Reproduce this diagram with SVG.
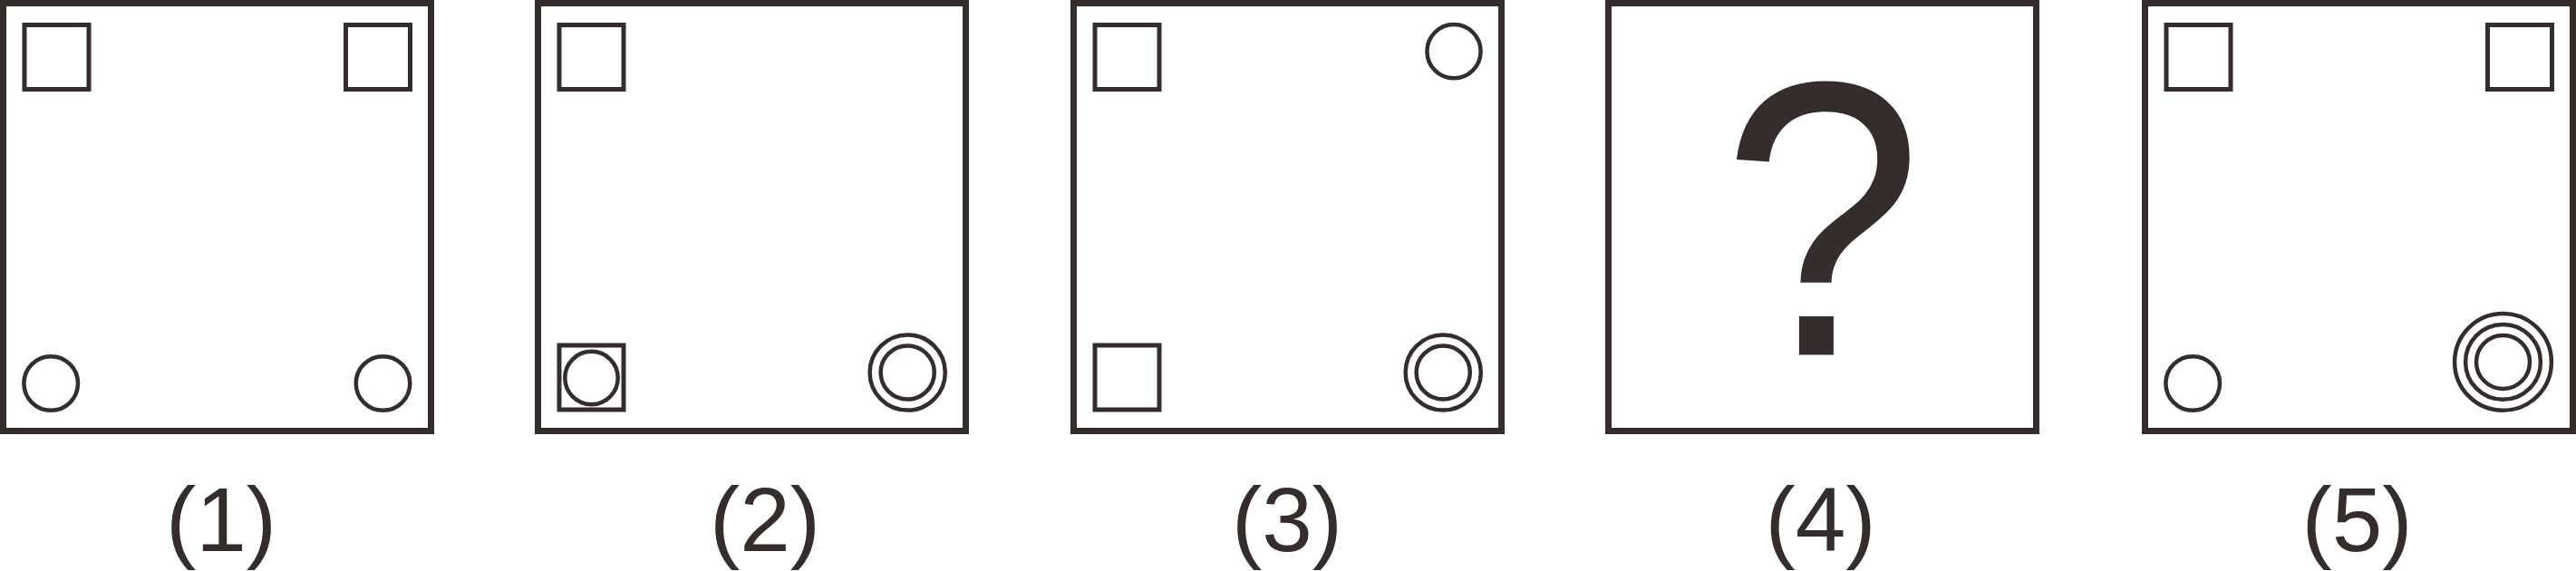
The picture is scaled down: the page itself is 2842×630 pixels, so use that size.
<svg xmlns="http://www.w3.org/2000/svg" width="2842" height="630" viewBox="0 0 2842 630">
<style>
.frame{fill:none;stroke:#352d2b;stroke-width:7}
.sq{fill:none;stroke:#352d2b;stroke-width:5}
.ci{fill:none;stroke:#352d2b;stroke-width:4.5}
.lbl{font-family:"Liberation Sans",Arial,sans-serif;font-size:100px;fill:#352d2b;text-anchor:middle}
.q{font-family:"Liberation Sans",Arial,sans-serif;font-size:420px;fill:#352d2b;text-anchor:middle}
</style>
<rect width="2842" height="630" fill="#ffffff"/>
<g id="panel1">
<rect class="frame" x="3.5" y="3.5" width="472" height="472"/>
<rect class="sq" x="27" y="27.5" width="71" height="71"/>
<rect class="sq" x="381.5" y="27.5" width="71" height="71"/>
<circle class="ci" cx="56.2" cy="423" r="29.8"/>
<circle class="ci" cx="422.5" cy="423" r="29.8"/>
<text class="lbl" x="244" y="608">(1)</text>
</g>
<g id="panel2">
<rect class="frame" x="593.5" y="3.5" width="472" height="472"/>
<rect class="sq" x="617" y="27.5" width="71" height="71"/>
<rect class="sq" x="617" y="381" width="71" height="71"/>
<circle class="ci" cx="652.5" cy="417" r="29.2"/>
<circle class="ci" cx="1001.2" cy="411" r="41.6"/>
<circle class="ci" cx="1001.2" cy="411" r="29.6"/>
<text class="lbl" x="844" y="608">(2)</text>
</g>
<g id="panel3">
<rect class="frame" x="1184.5" y="3.5" width="472" height="472"/>
<rect class="sq" x="1208" y="27.5" width="71" height="71"/>
<rect class="sq" x="1208" y="381" width="71" height="71"/>
<circle class="ci" cx="1604" cy="56.7" r="29.6"/>
<circle class="ci" cx="1592.2" cy="411" r="41.6"/>
<circle class="ci" cx="1592.2" cy="411" r="29.6"/>
<text class="lbl" x="1420" y="608">(3)</text>
</g>
<g id="panel4">
<rect class="frame" x="1774.5" y="3.5" width="472" height="472"/>
<text class="q" transform="translate(2010.5 391.5) scale(0.95 1.03)" x="0" y="0">?</text>
<text class="lbl" x="2008.5" y="608">(4)</text>
</g>
<g id="panel5">
<rect class="frame" x="2366.5" y="3.5" width="472" height="472"/>
<rect class="sq" x="2390" y="27.5" width="71" height="71"/>
<rect class="sq" x="2744.5" y="27.5" width="71" height="71"/>
<circle class="ci" cx="2419.2" cy="423" r="29.8"/>
<circle class="ci" cx="2761.5" cy="399.4" r="53.4"/>
<circle class="ci" cx="2761.5" cy="399.4" r="41.4"/>
<circle class="ci" cx="2761.5" cy="399.4" r="29.5"/>
<text class="lbl" x="2600.5" y="608">(5)</text>
</g>
<g id="connectors"></g>
</svg>
